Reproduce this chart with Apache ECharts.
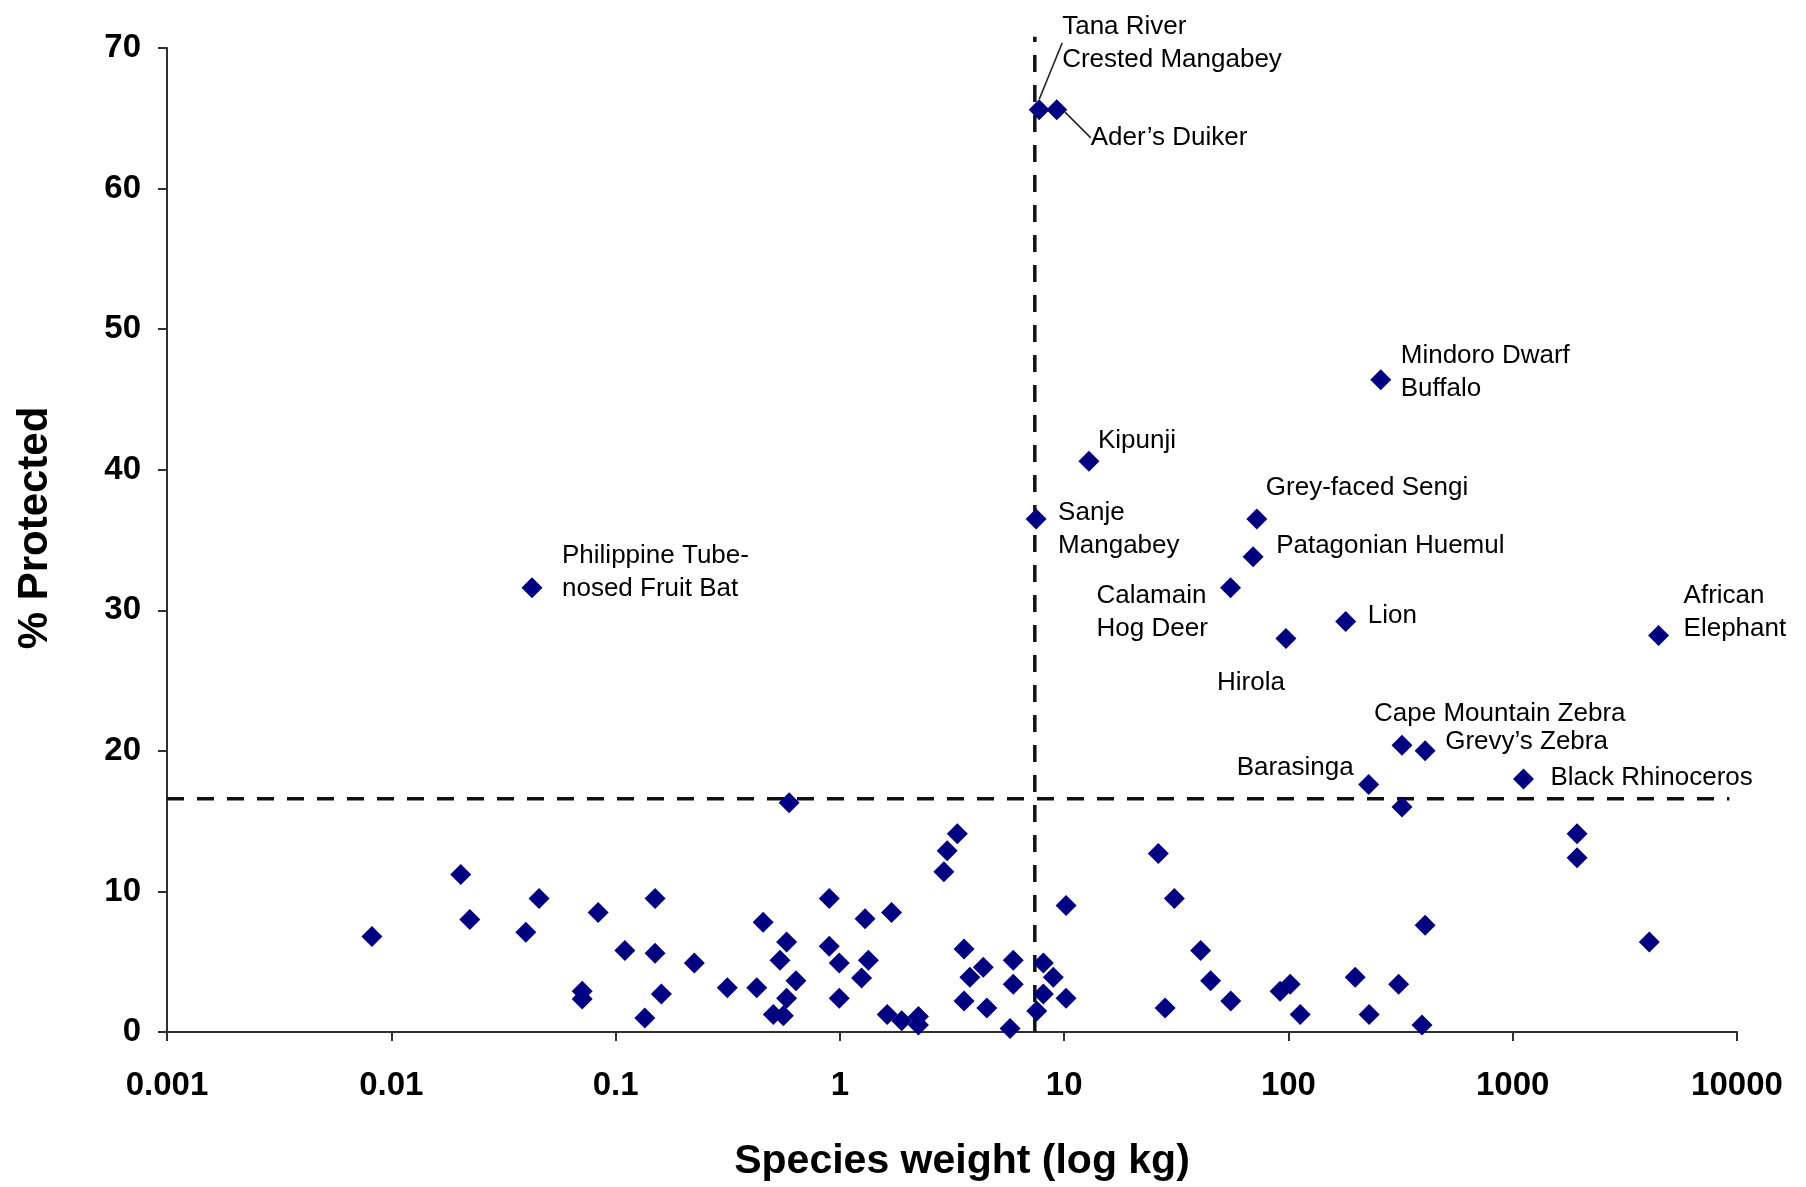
<!DOCTYPE html>
<html>
<head>
<meta charset="utf-8">
<script src="https://cdn.jsdelivr.net/npm/echarts@6/dist/echarts.min.js"></script>
<style>
html,body{margin:0;padding:0;background:#fff;}
#chart{width:1806px;height:1187px;}
</style>
</head>
<body>
<div id="chart"></div>
<script>
// ---------- DATA ----------
const xTickLabels = ['0.001', '0.01', '0.1', '1', '10', '100', '1000', '10000'];
const yTickLabels = ['0', '10', '20', '30', '40', '50', '60', '70'];

// Named species (labelled points)
const namedSpecies = [
  'Tana River\nCrested Mangabey', 'Ader\u2019s Duiker', 'Mindoro Dwarf\nBuffalo', 'Kipunji',
  'Sanje\nMangabey', 'Grey-faced Sengi', 'Patagonian Huemul', 'Calamain\nHog Deer',
  'Lion', 'Hirola', 'African\nElephant', 'Cape Mountain Zebra',
  'Grevy\u2019s Zebra', 'Barasinga', 'Black Rhinoceros', 'Philippine Tube-\nnosed Fruit Bat'
];
const namedWeight = [7.74, 9.27, 258, 12.9, 7.5, 72.3, 69.6, 55.2, 180, 97.5, 4470, 321, 407, 228, 1117, 0.0424];
const namedProtected = [65.6, 65.6, 46.4, 40.6, 36.5, 36.5, 33.8, 31.6, 29.2, 28.0, 28.2, 20.4, 20.0, 17.6, 18.0, 31.6];

// Other (unlabelled) species
const otherWeight = [
  0.0082, 0.0204, 0.0224, 0.0398, 0.0456, 0.0836, 0.071, 0.071, 0.110, 0.150,
  0.150, 0.160, 0.135, 0.2245, 0.315, 0.426, 0.455, 0.594, 0.579, 0.541,
  0.637, 0.579, 0.505, 0.560, 0.897, 0.897, 0.994, 0.994, 1.295, 1.34,
  1.25, 1.70, 1.626, 1.887, 2.24, 2.24, 2.91, 3.01, 3.34, 3.58,
  3.80, 4.36, 3.58, 4.52, 5.93, 5.93, 5.74, 7.55, 8.08, 8.95,
  8.08, 10.2, 10.2, 26.3, 31.0, 28.2, 40.6, 45.0, 55.3, 91.8,
  101.8, 112.8, 198.5, 229, 310, 407, 394, 321, 1936, 1936,
  4064
];
const otherProtected = [
  6.8, 11.2, 8.0, 7.1, 9.5, 8.5, 2.9, 2.35, 5.8, 9.5,
  5.6, 2.7, 1.0, 4.9, 3.15, 3.15, 7.8, 16.3, 6.4, 5.1,
  3.65, 2.4, 1.25, 1.15, 9.5, 6.1, 4.9, 2.4, 8.05, 5.1,
  3.85, 8.5, 1.25, 0.8, 1.1, 0.5, 11.4, 12.9, 14.1, 5.9,
  3.9, 4.6, 2.2, 1.7, 5.1, 3.4, 0.25, 1.5, 4.9, 3.9,
  2.7, 9.0, 2.4, 12.7, 9.5, 1.7, 5.8, 3.65, 2.2, 2.9,
  3.4, 1.25, 3.9, 1.25, 3.4, 7.6, 0.5, 16.0, 14.1, 12.4,
  6.4
];

// Reference (median) lines
const refWeight = 7.4;      // kg
const refProtected = 16.6;  // %
const refVerticalTop = 70.8;
const refHorizontalEnd = 9250;

// ---------- LAYOUT / STYLE (kept separate from data) ----------
const labelPlacement = {
  'Tana River\nCrested Mangabey': { dx: 23, dy: -67, line: true },
  'Ader\u2019s Duiker': { dx: 34, dy: 28, line: true },
  'Mindoro Dwarf\nBuffalo': { dx: 20, dy: -7 },
  'Kipunji': { dx: 9, dy: -20 },
  'Sanje\nMangabey': { dx: 22, dy: 10 },
  'Grey-faced Sengi': { dx: 9, dy: -31 },
  'Patagonian Huemul': { dx: 23, dy: -11 },
  'Calamain\nHog Deer': { dx: -134, dy: 25 },
  'Lion': { dx: 22, dy: -6 },
  'Hirola': { dx: -69, dy: 44 },
  'African\nElephant': { dx: 25, dy: -23 },
  'Cape Mountain Zebra': { dx: -28, dy: -31 },
  'Grevy\u2019s Zebra': { dx: 20, dy: -9 },
  'Barasinga': { dx: -15, dy: -17, align: 'right' },
  'Black Rhinoceros': { dx: 27, dy: -1 },
  'Philippine Tube-\nnosed Fruit Bat': { dx: 30, dy: -15 }
};

const FONT = '"Liberation Sans", Arial, sans-serif';
const MARKER = '#000080';

const namedData = namedSpecies.map((n, i) => {
  const p = labelPlacement[n];
  const item = {
    name: n,
    value: [namedWeight[i], namedProtected[i]],
    label: {
      show: true,
      position: 'inside',
      offset: [p.dx, p.dy],
      align: p.align || 'left',
      verticalAlign: 'middle',
      formatter: n
    }
  };
  if (p.line) {
    item.labelLine = { show: true };
  }
  return item;
});
const otherData = otherWeight.map((w, i) => [w, otherProtected[i]]);

const chart = echarts.init(document.getElementById('chart'), null, { renderer: 'canvas' });

const option = {
  backgroundColor: '#ffffff',
  animation: false,
  grid: { left: 167, right: 69, top: 48, bottom: 154, containLabel: false },
  xAxis: {
    type: 'log',
    logBase: 10,
    min: 0.001,
    max: 10000,
    name: 'Species weight (log kg)',
    nameLocation: 'middle',
    nameGap: 109,
    nameTextStyle: { fontFamily: FONT, fontSize: 41, fontWeight: 'bold', color: '#000', padding: [0, 0, 0, 20] },
    axisLine: { show: true, lineStyle: { color: '#303030', width: 2 } },
    axisTick: { show: true, inside: false, length: 9, lineStyle: { color: '#303030', width: 2 } },
    minorTick: { show: false },
    splitLine: { show: false },
    axisLabel: {
      margin: 37,
      fontFamily: FONT, fontSize: 33, fontWeight: 'bold', color: '#000',
      formatter: v => xTickLabels[Math.round(Math.log10(v)) + 3]
    }
  },
  yAxis: {
    type: 'value',
    min: 0,
    max: 70,
    interval: 10,
    name: '% Protected',
    nameLocation: 'middle',
    nameRotate: 90,
    nameGap: 111,
    nameTextStyle: { fontFamily: FONT, fontSize: 42, fontWeight: 'bold', color: '#000', padding: [0, 0, 0, 24] },
    axisLine: { show: true, lineStyle: { color: '#303030', width: 2 } },
    axisTick: { show: true, inside: false, length: 9, lineStyle: { color: '#303030', width: 2 } },
    splitLine: { show: false },
    axisLabel: {
      margin: 26,
      fontFamily: FONT, fontSize: 33, fontWeight: 'bold', color: '#000',
      formatter: v => yTickLabels[Math.round(v / 10)]
    }
  },
  series: [
    {
      type: 'line',
      data: [[0.001, refProtected], [refHorizontalEnd, refProtected]],
      symbol: 'none',
      clip: false,
      silent: true,
      z: 1,
      lineStyle: { color: '#111', width: 3.5, type: [17, 13] }
    },
    {
      type: 'line',
      data: [[refWeight, 0], [refWeight, refVerticalTop]],
      symbol: 'none',
      clip: false,
      silent: true,
      z: 1,
      lineStyle: { color: '#111', width: 3.5, type: [17, 13] }
    },
    {
      type: 'scatter',
      data: otherData,
      symbol: 'diamond',
      symbolSize: 21,
      clip: false,
      z: 3,
      itemStyle: { color: MARKER, opacity: 1 }
    },
    {
      type: 'scatter',
      data: namedData,
      symbol: 'diamond',
      symbolSize: 21,
      clip: false,
      z: 3,
      itemStyle: { color: MARKER, opacity: 1 },
      label: {
        show: true,
        fontFamily: FONT,
        fontSize: 26,
        color: '#000',
        lineHeight: 33
      },
      labelLine: { show: false, lineStyle: { color: '#222', width: 1.5 } }
    }
  ]
};
chart.setOption(option);
</script>
</body>
</html>
